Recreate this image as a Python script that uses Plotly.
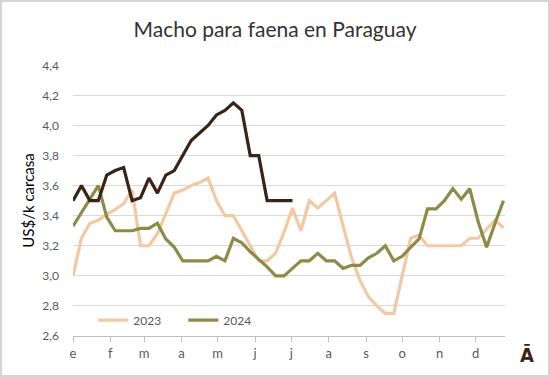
import pandas as pd
import plotly.graph_objects as go

# ---- data ----
weeks = pd.date_range("2023-01-01", periods=52, freq="7D")

serie_2023 = [3.00, 3.25, 3.35, 3.37, 3.41, 3.44, 3.48, 3.57, 3.20, 3.20,
              3.28, 3.42, 3.55, 3.57, 3.60, 3.62, 3.65, 3.50, 3.40, 3.40,
              3.30, 3.19, 3.10, 3.10, 3.15, 3.29, 3.45, 3.30, 3.50, 3.45,
              3.50, 3.55, 3.33, 3.12, 2.97, 2.86, 2.80, 2.75, 2.75, 3.00,
              3.25, 3.27, 3.20, 3.20, 3.20, 3.20, 3.20, 3.25, 3.25, 3.31,
              3.37, 3.32]

serie_2024 = [3.33, 3.42, 3.51, 3.60, 3.39, 3.30, 3.30, 3.30, 3.315, 3.315,
              3.35, 3.245, 3.19, 3.10, 3.10, 3.10, 3.10, 3.13, 3.10, 3.25,
              3.22, 3.16, 3.11, 3.06, 3.00, 3.00, 3.05, 3.10, 3.10, 3.15,
              3.10, 3.10, 3.05, 3.07, 3.07, 3.12, 3.15, 3.20, 3.10, 3.13,
              3.19, 3.245, 3.445, 3.445, 3.50, 3.58, 3.51, 3.58, 3.36, 3.19,
              3.35, 3.50]

serie_2025 = [3.50, 3.60, 3.50, 3.50, 3.67, 3.70, 3.72, 3.50, 3.52, 3.65,
              3.55, 3.67, 3.70, 3.80, 3.90, 3.95, 4.00, 4.07, 4.10, 4.15,
              4.10, 3.80, 3.80, 3.50, 3.50, 3.50, 3.50]

month_starts = pd.date_range("2023-01-01", periods=12, freq="MS")
month_labels = ["e", "f", "m", "a", "m", "j", "j", "a", "s", "o", "n", "d"]
y_ticks = [2.6, 2.8, 3.0, 3.2, 3.4, 3.6, 3.8, 4.0, 4.2, 4.4]

C2023 = "#F3C9A1"
C2024 = "#8E8B49"
C2025 = "#3B2316"

W, H = 550, 377
ML, MR, MT, MB = 73, 45, 65, 41

fig = go.Figure()
fig.add_trace(go.Scatter(x=weeks, y=serie_2023, mode="lines", name="2023",
                         line=dict(color=C2023, width=3.2)))
fig.add_trace(go.Scatter(x=weeks, y=serie_2024, mode="lines", name="2024",
                         line=dict(color=C2024, width=3.2)))
fig.add_trace(go.Scatter(x=weeks[:len(serie_2025)], y=serie_2025, mode="lines",
                         name="2025", showlegend=False,
                         line=dict(color=C2025, width=3.2)))

pw = W - ML - MR
ph = H - MT - MB

fig.update_layout(
    width=W, height=H,
    margin=dict(l=ML, r=MR, t=MT, b=MB),
    paper_bgcolor="white", plot_bgcolor="white",
    separators=",.",
    font=dict(family="Lato, Open Sans, sans-serif", color="#595959", size=12),
    title=dict(text="Macho para faena en Paraguay", x=0.5, xanchor="center",
               y=1 - 30 / H, yanchor="middle", yref="container",
               font=dict(size=21, color="#333333", family="Lato, sans-serif")),
    xaxis=dict(type="date", range=["2023-01-01", "2023-12-25 06:00"],
               tickvals=month_starts, ticktext=month_labels,
               ticks="outside", ticklen=5, tickcolor="#bfbfbf", tickwidth=1,
               showline=True, linecolor="#bfbfbf", linewidth=1,
               showgrid=False, zeroline=False,
               tickfont=dict(size=13, color="#595959")),
    yaxis=dict(range=[2.6, 4.402], tickvals=y_ticks, tickformat=".1f",
               showgrid=True, gridcolor="#d9d9d9", gridwidth=1,
               zeroline=False, showline=False, ticks="",
               ticklabelstandoff=13,
               tickfont=dict(size=12, color="#595959"),
               title=dict(text="US$/k carcasa", standoff=4,
                          font=dict(size=15, color="#000000"))),
    legend=dict(orientation="h", x=0.047, y=0.005, xanchor="left", yanchor="bottom",
                bgcolor="rgba(0,0,0,0)", font=dict(size=12, color="#595959"),
                entrywidth=45, entrywidthmode="pixels"),
    showlegend=True,
)

fig.add_annotation(text="<b>Ā</b>", xref="paper", yref="paper",
                   x=(527 - ML) / pw, y=-(355 - (H - MB)) / ph,
                   xanchor="center", yanchor="middle", showarrow=False,
                   font=dict(size=20, color=C2025, family="DejaVu Sans Condensed"))

fig.add_shape(type="rect", xref="paper", yref="paper",
              x0=(1 - ML) / pw, x1=(W - 1 - ML) / pw,
              y0=-(MB - 1) / ph, y1=(ph + MT - 1) / ph,
              line=dict(color="#d4d4d4", width=2), fillcolor="rgba(0,0,0,0)",
              layer="below")

fig.write_html("out.html", config={"displayModeBar": False},
               post_script="document.body.style.margin='0';document.body.style.overflow='hidden';")
